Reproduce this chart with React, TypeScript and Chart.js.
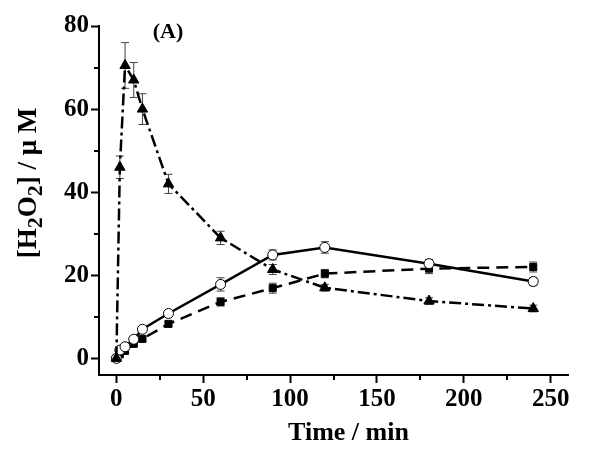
import React, { useEffect, useRef } from 'react';
import { Chart, registerables } from 'chart.js';

Chart.register(...registerables);

const times = [0, 2, 5, 10, 15, 30, 60, 90, 120, 180, 240];
const triangleValues = [0, 46, 70.5, 67, 60, 42, 29, 21.4, 17, 13.8, 12];
const triangleErrors = [0.3, 2.7, 5.5, 4.2, 3.7, 2.3, 1.6, 1.2, 0.8, 0.8, 0.8];
const circleValues = [0, 2.0, 2.8, 4.6, 7.0, 10.8, 17.8, 24.9, 26.7, 22.8, 18.5];
const circleErrors = [0.3, 0.4, 0.5, 0.6, 0.6, 0.7, 1.6, 1.2, 1.4, 1.0, 1.0];
const squareValues = [0, 1.0, 1.8, 3.5, 4.7, 8.3, 13.6, 16.9, 20.4, 21.6, 22.0];
const squareErrors = [0.3, 0.4, 0.4, 0.5, 0.5, 0.6, 1.0, 1.2, 1.0, 1.2, 1.2];

const xTicks = [0, 50, 100, 150, 200, 250];
const xMinorTicks = [25, 75, 125, 175, 225];
const yTicks = [0, 20, 40, 60, 80];
const yMinorTicks = [10, 30, 50, 70];

const panelLabel = '(A)';
const xTitle = 'Time / min';
const yTitleParts = [
  { t: '[H', sub: false },
  { t: '2', sub: true },
  { t: 'O', sub: false },
  { t: '2', sub: true },
  { t: '] / \u03bc M', sub: false },
];

const FONT = '"Liberation Serif", "Times New Roman", serif';

const toPoints = (vals: number[]) => vals.map((v, i) => ({ x: times[i], y: v }));

const errorBarPlugin = {
  id: 'errorBars',
  beforeDatasetsDraw(chart: any) {
    const ctx = chart.ctx;
    const xs = chart.scales.x;
    const ys = chart.scales.y;
    ctx.save();
    ctx.strokeStyle = '#444';
    ctx.lineWidth = 1;
    chart.data.datasets.forEach((ds: any) => {
      const errs: number[] = ds.errors || [];
      ds.data.forEach((p: any, i: number) => {
        const e = errs[i];
        if (!e) return;
        const px = xs.getPixelForValue(p.x);
        const top = ys.getPixelForValue(p.y + e);
        const bot = ys.getPixelForValue(p.y - e);
        ctx.beginPath();
        ctx.moveTo(px, top);
        ctx.lineTo(px, bot);
        ctx.moveTo(px - 4, top);
        ctx.lineTo(px + 4, top);
        ctx.moveTo(px - 4, bot);
        ctx.lineTo(px + 4, bot);
        ctx.stroke();
      });
    });
    ctx.restore();
  },
};

const decorPlugin = {
  id: 'decor',
  afterDraw(chart: any) {
    const ctx = chart.ctx;
    const xs = chart.scales.x;
    const ys = chart.scales.y;
    const area = chart.chartArea;
    ctx.save();
    ctx.strokeStyle = '#000';
    ctx.lineWidth = 2;
    xMinorTicks.forEach((v) => {
      const px = Math.round(xs.getPixelForValue(v));
      ctx.beginPath();
      ctx.moveTo(px, area.bottom);
      ctx.lineTo(px, area.bottom + 5);
      ctx.stroke();
    });
    yMinorTicks.forEach((v) => {
      const py = Math.round(ys.getPixelForValue(v));
      ctx.beginPath();
      ctx.moveTo(area.left, py);
      ctx.lineTo(area.left - 5, py);
      ctx.stroke();
    });

    ctx.fillStyle = '#000';
    // panel label
    ctx.font = `bold 22px ${FONT}`;
    ctx.textAlign = 'center';
    ctx.textBaseline = 'middle';
    ctx.fillText(panelLabel, 168, 32);

    // x title
    ctx.font = `bold 26px ${FONT}`;
    ctx.fillText(xTitle, (area.left + area.right) / 2 + 15, 433);

    // y title with subscripts
    ctx.translate(36, 183);
    ctx.rotate(-Math.PI / 2);
    ctx.textBaseline = 'alphabetic';
    const mainFont = `bold 27px ${FONT}`;
    const subFont = `bold 22px ${FONT}`;
    let total = 0;
    const widths = yTitleParts.map((p) => {
      ctx.font = p.sub ? subFont : mainFont;
      const w = ctx.measureText(p.t).width;
      total += w;
      return w;
    });
    let x = -total / 2;
    ctx.textAlign = 'left';
    yTitleParts.forEach((p, i) => {
      ctx.font = p.sub ? subFont : mainFont;
      ctx.fillText(p.t, x, p.sub ? 6 : 0);
      x += widths[i];
    });
    ctx.restore();
  },
};

export default function App() {
  const ref = useRef<HTMLCanvasElement | null>(null);

  useEffect(() => {
    document.body.style.margin = '0';
    if (!ref.current) return;
    const chart = new Chart(ref.current, {
      type: 'line',
      data: {
        datasets: [
          {
            label: 'triangles',
            data: toPoints(triangleValues),
            errors: triangleErrors,
            borderColor: '#000',
            backgroundColor: '#000',
            borderWidth: 2.5,
            borderDash: [12, 4, 3, 4],
            pointStyle: 'triangle',
            pointRadius: 6,
            pointBorderWidth: 1,
            pointBackgroundColor: '#000',
            pointBorderColor: '#000',
            tension: 0,
          } as any,
          {
            label: 'circles',
            data: toPoints(circleValues),
            errors: circleErrors,
            borderColor: '#000',
            backgroundColor: '#fff',
            borderWidth: 2.5,
            pointStyle: 'circle',
            pointRadius: 5,
            pointBorderWidth: 1,
            pointBackgroundColor: '#fff',
            pointBorderColor: '#000',
            tension: 0,
          } as any,
          {
            label: 'squares',
            data: toPoints(squareValues),
            errors: squareErrors,
            borderColor: '#000',
            backgroundColor: '#000',
            borderWidth: 2.5,
            borderDash: [12, 7],
            pointStyle: 'rect',
            pointRadius: 5,
            pointBorderWidth: 1,
            pointBackgroundColor: '#000',
            pointBorderColor: '#000',
            tension: 0,
          } as any,
        ],
      },
      options: {
        animation: false,
        responsive: false,
        layout: { padding: { top: 26, right: 32, left: 0, bottom: 0 } },
        plugins: {
          legend: { display: false },
          tooltip: { enabled: false },
          title: { display: false },
        },
        scales: {
          x: {
            type: 'linear',
            min: -10,
            max: 260,
            afterBuildTicks: (s: any) => {
              s.ticks = xTicks.map((v) => ({ value: v }));
            },
            afterFit: (s: any) => {
              s.height = 83;
            },
            grid: {
              drawOnChartArea: false,
              drawTicks: true,
              tickLength: 8,
              tickWidth: 2,
              tickColor: '#000',
            },
            border: { display: true, color: '#000', width: 2 },
            ticks: {
              color: '#000',
              padding: 2,
              maxRotation: 0,
              autoSkip: false,
              font: { family: FONT, size: 25, weight: 'bold' },
            },
          },
          y: {
            type: 'linear',
            min: -4,
            max: 80,
            afterBuildTicks: (s: any) => {
              s.ticks = yTicks.map((v) => ({ value: v }));
            },
            afterFit: (s: any) => {
              s.width = 99;
            },
            grid: {
              drawOnChartArea: false,
              drawTicks: true,
              tickLength: 8,
              tickWidth: 2,
              tickColor: '#000',
            },
            border: { display: true, color: '#000', width: 2 },
            ticks: {
              color: '#000',
              padding: 2,
              autoSkip: false,
              font: { family: FONT, size: 25, weight: 'bold' },
            },
          },
        },
      } as any,
      plugins: [errorBarPlugin, decorPlugin],
    });
    return () => chart.destroy();
  }, []);

  return (
    <div style={{ position: 'absolute', left: 0, top: 0, width: 600, height: 458, background: '#fff' }}>
      <canvas ref={ref} width={600} height={458} />
    </div>
  );
}
